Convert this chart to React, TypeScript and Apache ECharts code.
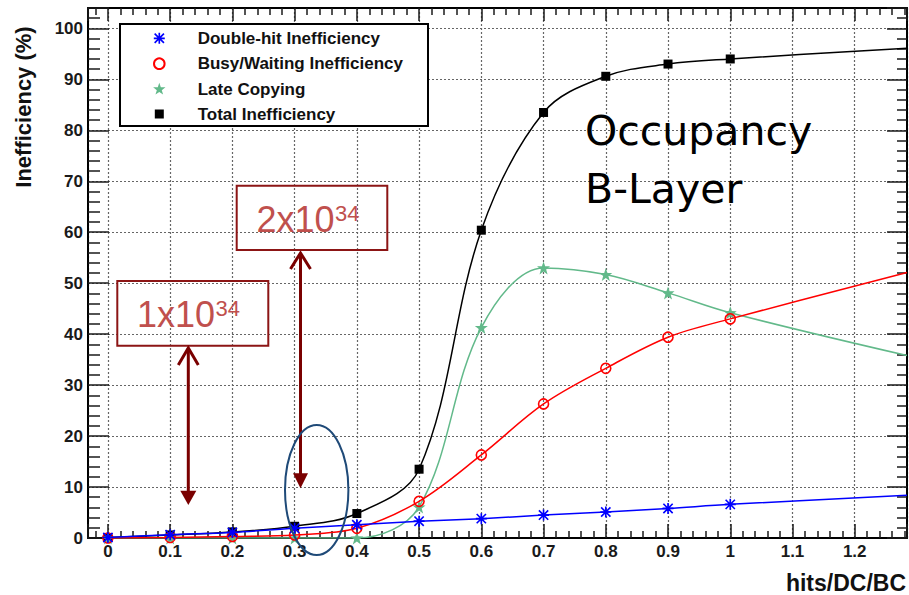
import React, { useEffect, useRef } from "react";
import * as echarts from "echarts";

// ---- data ----
const xValues = [0, 0.1, 0.2, 0.3, 0.4, 0.5, 0.6, 0.7, 0.8, 0.9, 1.0];
const doubleHit = [0.1, 0.65, 1.1, 1.9, 2.6, 3.3, 3.8, 4.5, 5.1, 5.8, 6.6];
const busyWaiting = [0, 0.1, 0.3, 0.6, 1.9, 7.2, 16.3, 26.3, 33.3, 39.4, 43.0];
const lateCopying = [0, 0, 0, 0, 0, 6.1, 41.3, 53.0, 51.7, 48.1, 44.2];
const totalIneff = [0.1, 0.6, 1.2, 2.3, 4.8, 13.5, 60.4, 83.5, 90.6, 93.0, 94.0];
// fitted curves continue to the right frame edge
const xEdge = 1.284;
const edgeValues = { doubleHit: 8.4, busyWaiting: 52.1, lateCopying: 35.8, totalIneff: 96.1 };

const xMin = -0.032;
const xMax = 1.284;
const yMin = 0;
const yMax = 104;

const legendLabels = [
  "Double-hit Inefficiency",
  "Busy/Waiting Inefficiency",
  "Late Copying",
  "Total Inefficiency",
];
const xTitle = "hits/DC/BC";
const yTitle = "Inefficiency (%)";
const noteLines = ["Occupancy", "B-Layer"];
const lumis = ["1x10", "2x10"];
const lumiExp = "34";

const BLUE = "#0000ff";
const RED = "#ff0000";
const GREEN = "#62b98a";
const BLACK = "#000000";
const ANN_TEXT = "#c0504d";
const ANN_BOX = "#8c1515";
const ANN_ARROW = "#7a0000";
const ELLIPSE = "#1f4a78";

const ASTERISK_D =
  "M0 8.5 L20 8.5 L20 11.5 L0 11.5 Z M8.5 0 L11.5 0 L11.5 20 L8.5 20 Z " +
  "M2.6 0.5 L19.5 17.4 L17.4 19.5 L0.5 2.6 Z M17.4 0.5 L19.5 2.6 L2.6 19.5 L0.5 17.4 Z";
const STAR_D =
  "M10 0.5 L12.35 7.26 L19.51 7.41 L13.8 11.74 L15.88 18.59 L10 14.5 L4.12 18.59 L6.2 11.74 L0.49 7.41 L7.65 7.26 Z";

echarts.graphic.registerShape("asteriskMark", echarts.graphic.extendPath(ASTERISK_D, {}));
echarts.graphic.registerShape("starMark", echarts.graphic.extendPath(STAR_D, {}));

const FONT = '"Liberation Sans", Arial, Helvetica, sans-serif';

function buildData(ys: number[], edge: number) {
  const d: any[] = xValues.map((x, i) => [x, ys[i]]);
  d.push({ value: [xEdge, edge], symbol: "none" });
  return d;
}

function buildOption() {
  const tickStyle = { color: "#1a1a1a", width: 1.5 };
  const split = { show: true, lineStyle: { color: "#666", width: 1.2, type: [2, 2] as any } };
  const axisLine = { show: true, onZero: false, lineStyle: { color: "#000", width: 2 } };

  const series: any[] = [
    {
      name: legendLabels[3],
      type: "line",
      data: buildData(totalIneff, edgeValues.totalIneff),
      smooth: 0.35,
      symbol: "rect",
      symbolSize: 9,
      itemStyle: { color: BLACK },
      lineStyle: { color: BLACK, width: 1.5 },
      z: 3,
    },
    {
      name: legendLabels[2],
      type: "line",
      data: buildData(lateCopying, edgeValues.lateCopying),
      smooth: 0.35,
      symbol: "path://" + STAR_D,
      symbolSize: 13,
      itemStyle: { color: GREEN },
      lineStyle: { color: GREEN, width: 1.5 },
      z: 4,
    },
    {
      name: legendLabels[1],
      type: "line",
      data: buildData(busyWaiting, edgeValues.busyWaiting),
      smooth: 0.35,
      symbol: "circle",
      symbolSize: 10,
      itemStyle: { color: "rgba(0,0,0,0)", borderColor: RED, borderWidth: 1.6 },
      lineStyle: { color: RED, width: 1.5 },
      z: 5,
    },
    {
      name: legendLabels[0],
      type: "line",
      data: buildData(doubleHit, edgeValues.doubleHit),
      smooth: 0.35,
      symbol: "path://" + ASTERISK_D,
      symbolSize: 11,
      itemStyle: { color: BLUE },
      lineStyle: { color: BLUE, width: 1.5 },
      z: 6,
    },
  ];

  const legendX = 120;
  const legendY = 24;
  const legendRowY = [38.3, 63.7, 89, 114];
  const markerX = 159.3;
  const textX = 197.7;
  const noteFont = `41px "DejaVu Sans", Verdana, sans-serif`;

  const graphics: any[] = [
    {
      type: "rect",
      z: 100,
      shape: { x: legendX, y: legendY, width: 308, height: 102 },
      style: { fill: "#fff", stroke: "#000", lineWidth: 2 },
    },
    ...legendLabels.map((t, i) => ({
      type: "text",
      z: 101,
      x: textX,
      y: legendRowY[i],
      style: { text: t, fill: "#111", font: `bold 17px ${FONT}`, verticalAlign: "middle", align: "left" },
    })),
    {
      type: "asteriskMark",
      z: 101,
      x: markerX - 5.5,
      y: legendRowY[0] - 5.5,
      scaleX: 0.55,
      scaleY: 0.55,
      style: { fill: BLUE },
    },
    {
      type: "circle",
      z: 101,
      shape: { cx: markerX, cy: legendRowY[1], r: 5.3 },
      style: { fill: "none", stroke: RED, lineWidth: 2 },
    },
    {
      type: "starMark",
      z: 101,
      x: markerX - 6.5,
      y: legendRowY[2] - 6.5,
      scaleX: 0.65,
      scaleY: 0.65,
      style: { fill: GREEN },
    },
    {
      type: "rect",
      z: 101,
      shape: { x: markerX - 4.5, y: legendRowY[3] - 4.5, width: 9, height: 9 },
      style: { fill: BLACK },
    },
    // axis titles
    {
      type: "text",
      z: 50,
      x: 23,
      y: 107,
      rotation: Math.PI / 2,
      style: { text: yTitle, fill: "#111", font: `bold 22px ${FONT}`, align: "center", verticalAlign: "middle" },
    },
    {
      type: "text",
      z: 50,
      x: 906,
      y: 583,
      style: { text: xTitle, fill: "#111", font: `bold 23px ${FONT}`, align: "right", verticalAlign: "middle" },
    },
    // Occupancy note
    {
      type: "text",
      z: 50,
      x: 585,
      y: 131,
      style: { text: noteLines[0], fill: "#000", font: noteFont, verticalAlign: "middle" },
    },
    {
      type: "text",
      z: 50,
      x: 585,
      y: 189,
      style: { text: noteLines[1], fill: "#000", font: noteFont, verticalAlign: "middle" },
    },
    // luminosity boxes
    {
      type: "rect",
      z: 50,
      shape: { x: 117.3, y: 281, width: 151, height: 64.7 },
      style: { fill: "none", stroke: ANN_BOX, lineWidth: 2 },
    },
    {
      type: "text",
      z: 51,
      x: 137,
      y: 314.3,
      style: { text: lumis[0], fill: ANN_TEXT, font: `36px ${FONT}`, verticalAlign: "middle" },
    },
    {
      type: "text",
      z: 51,
      x: 215.5,
      y: 308.5,
      style: { text: lumiExp, fill: ANN_TEXT, font: `22px ${FONT}`, verticalAlign: "middle" },
    },
    {
      type: "rect",
      z: 50,
      shape: { x: 236.7, y: 185.7, width: 150.6, height: 64.3 },
      style: { fill: "none", stroke: ANN_BOX, lineWidth: 2 },
    },
    {
      type: "text",
      z: 51,
      x: 256.4,
      y: 219,
      style: { text: lumis[1], fill: ANN_TEXT, font: `36px ${FONT}`, verticalAlign: "middle" },
    },
    {
      type: "text",
      z: 51,
      x: 335,
      y: 213.2,
      style: { text: lumiExp, fill: ANN_TEXT, font: `22px ${FONT}`, verticalAlign: "middle" },
    },
    // arrow 1
    {
      type: "line",
      z: 50,
      shape: { x1: 188.3, y1: 348, x2: 188.3, y2: 492 },
      style: { stroke: ANN_ARROW, lineWidth: 3 },
    },
    {
      type: "polyline",
      z: 50,
      shape: { points: [[178.3, 365], [188.3, 348], [198.3, 365]] },
      style: { stroke: ANN_ARROW, lineWidth: 3, fill: "none" },
    },
    {
      type: "polygon",
      z: 50,
      shape: { points: [[180.3, 490.7], [196.3, 490.7], [188.3, 505]] },
      style: { fill: ANN_ARROW },
    },
    // arrow 2
    {
      type: "line",
      z: 50,
      shape: { x1: 300.5, y1: 253, x2: 300.5, y2: 475 },
      style: { stroke: ANN_ARROW, lineWidth: 3 },
    },
    {
      type: "polyline",
      z: 50,
      shape: { points: [[290.5, 269], [300.5, 253], [310.5, 269]] },
      style: { stroke: ANN_ARROW, lineWidth: 3, fill: "none" },
    },
    {
      type: "polygon",
      z: 50,
      shape: { points: [[293, 473.3], [308, 473.3], [300.5, 488.3]] },
      style: { fill: ANN_ARROW },
    },
    // ellipse
    {
      type: "ellipse",
      z: 50,
      shape: { cx: 316.7, cy: 490, rx: 31.7, ry: 65 },
      style: { fill: "none", stroke: ELLIPSE, lineWidth: 2 },
    },
  ];

  return {
    animation: false,
    backgroundColor: "#fff",
    grid: { left: 88, right: 2, top: 8, bottom: 57, containLabel: false },
    xAxis: [
      {
        type: "value",
        min: xMin,
        max: xMax,
        splitNumber: 13,
        position: "bottom",
        axisLine,
        axisTick: { show: true, inside: true, length: 14, lineStyle: tickStyle },
        minorTick: { show: true, splitNumber: 5, length: 7, lineStyle: tickStyle },
        splitLine: split,
        axisLabel: {
          show: true,
          margin: 5,
          showMinLabel: false,
          showMaxLabel: false,
          color: "#1a1a1a",
          fontFamily: FONT,
          fontWeight: "bold",
          fontSize: 17,
          formatter: (v: number) => String(Math.round(v * 10) / 10),
        },
      },
      {
        type: "value",
        min: xMin,
        max: xMax,
        splitNumber: 13,
        position: "top",
        axisLine,
        axisTick: { show: true, inside: true, length: 13, lineStyle: tickStyle },
        minorTick: { show: true, splitNumber: 5, length: 7, lineStyle: tickStyle },
        splitLine: { show: false },
        axisLabel: { show: false },
      },
    ],
    yAxis: [
      {
        type: "value",
        min: yMin,
        max: yMax,
        interval: 10,
        position: "left",
        axisLine,
        axisTick: { show: true, inside: true, length: 21, lineStyle: tickStyle },
        minorTick: { show: true, splitNumber: 5, length: 12, lineStyle: tickStyle },
        splitLine: split,
        axisLabel: {
          show: true,
          margin: 5,
          showMaxLabel: false,
          color: "#1a1a1a",
          fontFamily: FONT,
          fontWeight: "bold",
          fontSize: 17,
        },
      },
      {
        type: "value",
        min: yMin,
        max: yMax,
        interval: 10,
        position: "right",
        axisLine,
        axisTick: { show: true, inside: true, length: 20, lineStyle: tickStyle },
        minorTick: { show: true, splitNumber: 5, length: 10, lineStyle: tickStyle },
        splitLine: { show: false },
        axisLabel: { show: false },
      },
    ],
    series,
    graphic: graphics,
  };
}

export default function App() {
  const ref = useRef<HTMLDivElement>(null);
  useEffect(() => {
    if (!ref.current) return;
    const chart = echarts.init(ref.current, undefined, { renderer: "svg" });
    chart.setOption(buildOption() as any);
    return () => chart.dispose();
  }, []);
  return (
    <div
      ref={ref}
      style={{ position: "absolute", left: 0, top: 0, width: 909, height: 595, background: "#fff" }}
    />
  );
}
